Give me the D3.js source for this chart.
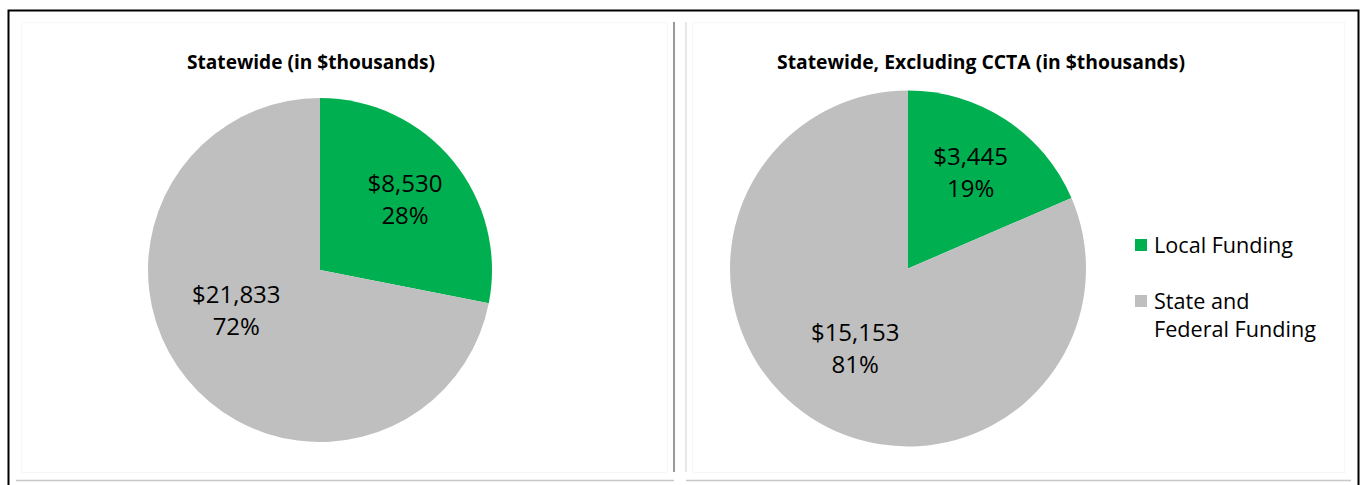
<!DOCTYPE html>
<html>
<head>
<meta charset="utf-8">
<script src="https://cdn.jsdelivr.net/npm/d3@7/dist/d3.min.js"></script>
<style>
  html, body { margin: 0; padding: 0; background: #ffffff; }
  svg { display: block; }
  text { font-family: "Open Sans", "Noto Sans", sans-serif; fill: #000; }
</style>
</head>
<body>
<svg id="chart" width="1361" height="485"></svg>
<script>
// Funding split, in $thousands
const categories = ["Local Funding", "State and Federal Funding"];
const legendLines = [["Local Funding"], ["State and", "Federal Funding"]];
const statewideValues = [8530, 21833];
const excludingCctaValues = [3445, 15153];
const panelTitles = ["Statewide (in $thousands)", "Statewide, Excluding CCTA (in $thousands)"];

const colors = d3.scaleOrdinal().domain(categories).range(["#00b050", "#bfbfbf"]);

const svg = d3.select("#chart");

// Frame: outer black border (open at the bottom), divider and panel rules
svg.append("path")
  .attr("d", `M8.5,485 L8.5,10.5 L1358.5,10.5 L1358.5,485`)
  .attr("fill", "none").attr("stroke", "#000").attr("stroke-width", 2);

svg.append("rect").attr("x", 21.5).attr("y", 22.5).attr("width", 646).attr("height", 450)
  .attr("fill", "none").attr("stroke", "#f7f7f7").attr("stroke-width", 1);
svg.append("rect").attr("x", 692.5).attr("y", 22.5).attr("width", 652).attr("height", 450)
  .attr("fill", "none").attr("stroke", "#f7f7f7").attr("stroke-width", 1);

svg.append("line").attr("x1", 674).attr("x2", 674).attr("y1", 22).attr("y2", 472)
  .attr("stroke", "#9a9a9a").attr("stroke-width", 2);
svg.append("line").attr("x1", 686).attr("x2", 686).attr("y1", 22).attr("y2", 472)
  .attr("stroke", "#cfcfcf").attr("stroke-width", 1);
svg.append("line").attr("x1", 16).attr("x2", 674).attr("y1", 480.5).attr("y2", 480.5)
  .attr("stroke", "#c8c8c8").attr("stroke-width", 1.5);
svg.append("line").attr("x1", 686).attr("x2", 1351).attr("y1", 480.5).attr("y2", 480.5)
  .attr("stroke", "#c8c8c8").attr("stroke-width", 1.5);

// Scale a text element's font size so it spans the given width
function fitWidth(sel, width) {
  sel.each(function () {
    const base = parseFloat(this.getAttribute("font-size"));
    const w = this.getComputedTextLength();
    if (w > 0) this.setAttribute("font-size", (base * width / w).toFixed(2));
  });
}

const pie = d3.pie().sort(null).value(d => d.value).startAngle(0).endAngle(2 * Math.PI);
const fmt = d3.format("$,");

const panels = [
  { title: panelTitles[0], values: statewideValues, cx: 320, cy: 270, r: 172,
    titleX: 311, titleW: 248, shift: [[0, 0], [-12, -18]] },
  { title: panelTitles[1], values: excludingCctaValues, cx: 908, cy: 268.5, r: 178,
    titleX: 981, titleW: 408, shift: [[0, 0], [0, 0]] }
];
const labelRadius = [0.64, 0.54];

panels.forEach(p => {
  const g = svg.append("g").attr("transform", `translate(${p.cx},${p.cy})`);
  const data = categories.map((c, i) => ({ category: c, value: p.values[i] }));
  const total = d3.sum(p.values);
  const arcs = pie(data);
  const arc = d3.arc().innerRadius(0).outerRadius(p.r);

  g.selectAll("path.slice").data(arcs).join("path")
    .attr("class", "slice")
    .attr("d", arc)
    .attr("fill", d => colors(d.data.category));

  arcs.forEach((d, i) => {
    const la = d3.arc().innerRadius(0).outerRadius(2 * p.r * labelRadius[i]);
    const [x, y] = la.centroid(d);
    const ax = x + p.shift[i][0], ay = y + p.shift[i][1];
    const t = g.append("text")
      .attr("text-anchor", "middle")
      .attr("font-size", 24);
    t.append("tspan").attr("x", ax).attr("y", ay - 8).text(fmt(d.data.value));
    t.append("tspan").attr("x", ax).attr("y", ay + 24)
      .text(Math.round(d.data.value / total * 100) + "%");
  });

  svg.append("text")
    .attr("x", p.titleX).attr("y", 69)
    .attr("text-anchor", "middle")
    .attr("font-weight", "bold")
    .attr("font-size", 17)
    .text(p.title)
    .call(fitWidth, p.titleW);
});

// Legend
const legend = svg.append("g");
const legendTop = [239, 295];
categories.forEach((c, i) => {
  legend.append("rect")
    .attr("x", 1135).attr("y", legendTop[i])
    .attr("width", 12).attr("height", 12)
    .attr("fill", colors(c));
  legendLines[i].forEach((line, j) => {
    legend.append("text")
      .attr("x", 1154).attr("y", legendTop[i] + 14 + j * 28)
      .attr("font-size", 20)
      .text(line);
  });
});
const firstEntry = legend.selectAll("text").filter(function () { return this.textContent === "Local Funding"; });
fitWidth(firstEntry, 139);
legend.selectAll("text").attr("font-size", firstEntry.attr("font-size"));
</script>
</body>
</html>
